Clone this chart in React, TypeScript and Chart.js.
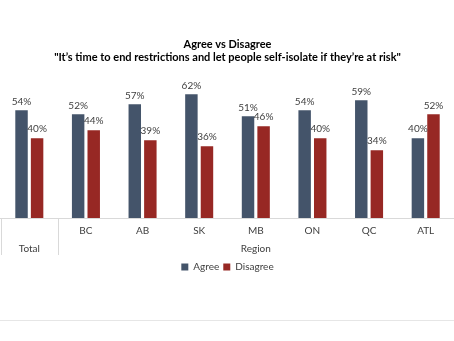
import React, { useEffect, useRef } from "react";
import { Chart, registerables } from "chart.js";

Chart.register(...registerables);

const categories: (string | string[])[] = [
  ["", "Total"],
  "BC",
  "AB",
  "SK",
  ["MB", "Region"],
  "ON",
  "QC",
  "ATL",
];
const agree = [54, 52, 57, 62, 51, 54, 59, 40];
const disagree = [40, 44, 39, 36, 46, 40, 34, 52];
const titleLines = [
  "Agree vs Disagree",
  "\"It\u2019s time to end restrictions and let people self-isolate if they\u2019re at risk\"",
];

const FONT = "Lato, 'Open Sans', sans-serif";
const TEXT = "#404040";

const dataLabels = {
  id: "dataLabels",
  afterDatasetsDraw(chart: any) {
    const ctx = chart.ctx;
    ctx.save();
    ctx.font = `10px ${FONT}`;
    ctx.fillStyle = TEXT;
    ctx.textAlign = "center";
    ctx.textBaseline = "bottom";
    chart.data.datasets.forEach((ds: any, di: number) => {
      const meta = chart.getDatasetMeta(di);
      meta.data.forEach((bar: any, i: number) => {
        ctx.fillText(`${ds.data[i]}%`, bar.x, bar.y - 4);
      });
    });
    ctx.restore();
  },
};

const dividers = {
  id: "dividers",
  afterDraw(chart: any) {
    const x = chart.scales.x;
    const ctx = chart.ctx;
    const y0 = chart.chartArea.bottom;
    const left = x.left;
    const between = (x.getPixelForValue(0) + x.getPixelForValue(1)) / 2;
    ctx.save();
    ctx.strokeStyle = "#d9d9d9";
    ctx.lineWidth = 1;
    ctx.beginPath();
    ctx.moveTo(0, Math.round(y0) + 0.5);
    ctx.lineTo(chart.width, Math.round(y0) + 0.5);
    [left, between].forEach((px) => {
      ctx.moveTo(Math.round(px) + 0.5, y0);
      ctx.lineTo(Math.round(px) + 0.5, y0 + 37);
    });
    ctx.stroke();
    ctx.restore();
  },
};

export default function App() {
  const ref = useRef<HTMLCanvasElement>(null);
  useEffect(() => {
    if (!ref.current) return;
    const chart = new Chart(ref.current, {
      type: "bar",
      data: {
        labels: categories,
        datasets: [
          {
            label: "Agree",
            data: agree,
            backgroundColor: "#44546A",
            categoryPercentage: 0.55,
            barPercentage: 0.8,
          },
          {
            label: "Disagree",
            data: disagree,
            backgroundColor: "#972824",
            categoryPercentage: 0.55,
            barPercentage: 0.8,
          },
        ],
      },
      options: {
        animation: false,
        responsive: true,
        maintainAspectRatio: false,
        layout: { padding: { left: 1, right: 0, top: 0, bottom: 0 } },
        scales: {
          y: { display: false, min: 0, max: 70 },
          x: {
            border: { display: false },
            grid: { display: false, drawTicks: false },
            afterFit: (s: any) => {
              s.height = 40;
            },
            ticks: {
              padding: 4,
              color: TEXT,
              font: { family: FONT, size: 10, lineHeight: 1.8 },
              maxRotation: 0,
              autoSkip: false,
            },
          },
        },
        plugins: {
          title: {
            display: true,
            text: titleLines,
            color: "#000",
            font: { family: FONT, size: 11, weight: "bold", lineHeight: 1.2 },
            padding: { top: 38, bottom: 14 },
          },
          legend: {
            position: "bottom",
            labels: {
              boxWidth: 7,
              boxHeight: 7,
              color: TEXT,
              font: { family: FONT, size: 10 },
              padding: 4,
            },
          },
          tooltip: { enabled: false },
        },
      },
      plugins: [dataLabels, dividers],
    });
    return () => chart.destroy();
  }, []);
  return (
    <div style={{ position: "fixed", left: 0, top: 0, width: 454, height: 341, background: "#fff" }}>
      <div style={{ position: "absolute", left: 0, top: 0, width: 454, height: 282 }}>
        <canvas ref={ref} />
      </div>
      <div style={{ position: "absolute", left: 0, top: 320, width: 454, height: 1, background: "#e6e6e6" }} />
    </div>
  );
}
